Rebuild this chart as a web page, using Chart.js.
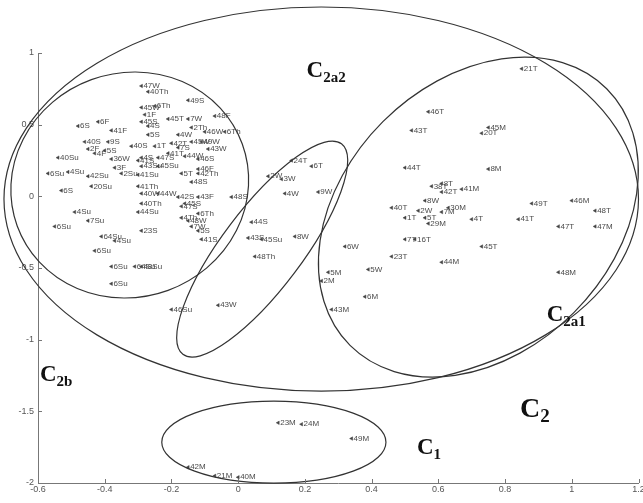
<!DOCTYPE html>
<html lang="en">
<head>
<meta charset="UTF-8">
<title>Cluster scatter</title>
<script src="https://cdn.jsdelivr.net/npm/chart.js"></script>
<style>
    body { margin: 0; background: #fff; }
    #wrap { width: 643px; height: 503px; }
</style>
</head>
<body>
<div id="wrap"><canvas id="myChart"></canvas></div>
<script>
// ---- data ----
const xTicks = [-0.6, -0.4, -0.2, 0, 0.2, 0.4, 0.6, 0.8, 1, 1.2];
const yTicks = [-2, -1.5, -1, -0.5, 0, 0.5, 1];

const c1Labels = ['23M', '24M', '49M', '42M', '21M', '40M'];
const c1X = [0.12, 0.19, 0.34, -0.15, -0.07, 0.00];
const c1Y = [-1.58, -1.59, -1.69, -1.89, -1.95, -1.96];

const c2a1Labels = ['21T', '46T', '43T', '45M', '20T', '44T', '8M', '38T', '8T', '41M', '42T', '40T',
    '8W', '30M', '2W', '1T', '5T', '7M', '29M', '4T', '7T', '16T', '45T', '23T', '44M', '49T',
    '46M', '48T', '41T', '47T', '47M', '48M', '6M', '43M', '5M', '2M', '6W', '5W'];
const c2a1X = [0.85, 0.57, 0.52, 0.75, 0.73, 0.50, 0.75, 0.58, 0.61, 0.67, 0.61, 0.46,
    0.56, 0.63, 0.54, 0.50, 0.56, 0.61, 0.57, 0.70, 0.50, 0.53, 0.73, 0.46, 0.61, 0.88,
    1.00, 1.07, 0.84, 0.96, 1.07, 0.96, 0.38, 0.28, 0.27, 0.25, 0.32, 0.39];
const c2a1Y = [0.89, 0.59, 0.46, 0.48, 0.44, 0.20, 0.19, 0.07, 0.09, 0.05, 0.03, -0.08,
    -0.03, -0.08, -0.10, -0.15, -0.15, -0.11, -0.19, -0.16, -0.30, -0.30, -0.35, -0.42, -0.46, -0.05,
    -0.03, -0.10, -0.16, -0.21, -0.21, -0.53, -0.70, -0.79, -0.53, -0.59, -0.35, -0.51];

const midLabels = ['24T', '6T', '2W', '3W', '4W', '9W', '48S', '44S', '43S', '45Su', '8W', '48Th', '43W', '46Su'];
const midX = [0.16, 0.22, 0.09, 0.13, 0.14, 0.24, -0.02, 0.04, 0.03, 0.07, 0.17, 0.05, -0.06, -0.20];
const midY = [0.25, 0.21, 0.14, 0.12, 0.02, 0.03, -0.005, -0.18, -0.29, -0.30, -0.28, -0.42, -0.76, -0.79];

const c2bLabels = ['6S', '6F', '41F', '40S', '9S', '2F', '4F', '5S', '40Su', '6Su', '4Su', '42Su', '20Su', '6S',
    '36W', '3F', '2Su', '47W', '40Th', '49S', '45W', '6Th', '1F', '45T', '7W', '48F', '45S', '4S', '2Th',
    '4W', '46W', '6Th', '5S', '40S', '1T', '42T', '7S', '45W', '49W', '43W', '4S', '47S', '41T', '44W',
    '46S', '43Su', '45Su', '41S', '46F', '42Th', '5T', '48S', '41Su', '41Th', '40W', '44W', '42S', '43F',
    '40Th', '45S', '44Su', '6Th', '47S', '4Th', '48W', '7W', '5S', '41S', '23S', '4Su', '7Su', '6Su',
    '64Su', '4Su', '6Su', '6Su', '64Su', '48Su', '6Su'];
const c2bX = [-0.48, -0.42, -0.38, -0.46, -0.39, -0.45, -0.43, -0.40, -0.54, -0.57, -0.51, -0.45, -0.44, -0.53,
    -0.38, -0.37, -0.35, -0.29, -0.27, -0.15, -0.29, -0.25, -0.28, -0.21, -0.15, -0.07, -0.29, -0.27, -0.14,
    -0.18, -0.10, -0.04, -0.27, -0.32, -0.25, -0.20, -0.18, -0.14, -0.11, -0.09, -0.29, -0.24, -0.21, -0.16,
    -0.12, -0.29, -0.24, -0.30, -0.12, -0.12, -0.17, -0.14, -0.30, -0.30, -0.29, -0.24, -0.18, -0.12,
    -0.29, -0.16, -0.30, -0.12, -0.17, -0.17, -0.15, -0.14, -0.12, -0.11, -0.29, -0.49, -0.45, -0.55,
    -0.41, -0.37, -0.43, -0.38, -0.31, -0.29, -0.38];
const c2bY = [0.49, 0.52, 0.46, 0.38, 0.38, 0.33, 0.30, 0.32, 0.27, 0.16, 0.17, 0.14, 0.07, 0.04,
    0.26, 0.20, 0.16, 0.77, 0.73, 0.67, 0.62, 0.63, 0.57, 0.54, 0.54, 0.56, 0.52, 0.49, 0.48,
    0.43, 0.45, 0.45, 0.43, 0.35, 0.35, 0.37, 0.34, 0.38, 0.38, 0.33, 0.27, 0.27, 0.30, 0.28,
    0.26, 0.21, 0.21, 0.25, 0.19, 0.16, 0.16, 0.10, 0.15, 0.07, 0.02, 0.02, -0.005, -0.005,
    -0.05, -0.05, -0.11, -0.12, -0.07, -0.15, -0.17, -0.21, -0.24, -0.30, -0.24, -0.11, -0.17, -0.21,
    -0.28, -0.31, -0.38, -0.49, -0.49, -0.49, -0.61];

// cluster outlines: centre (data), semi-axes (x units, y units), screen rotation in degrees
const ellipseNames = ['C2', 'C2a2', 'mid', 'C2a1', 'C1'];
const ellipseCX = [0.249, -0.325, 0.072, 0.72, 0.107];
const ellipseCY = [-0.019, 0.079, -0.368, -0.145, -1.715];
const ellipseRX = [0.951, 0.359, 0.395, 0.544, 0.336];
const ellipseRY = [1.34, 0.782, 0.28, 0.942, 0.286];
const ellipseRot = [0, -20, -53, -45, 0];

// cluster names
const nameMain = ['C', 'C', 'C', 'C', 'C'];
const nameSub = ['2a2', '2a1', '2b', '2', '1'];
const nameX = [0.205, 0.925, -0.594, 0.845, 0.536];
const nameY = [0.833, -0.870, -1.289, -1.540, -1.798];

// ---- build datasets ----
function toPoints(xs, ys, labels) {
    return xs.map((x, i) => ({ x: x, y: ys[i], label: labels[i] }));
}
const pointStyle = {
    pointStyle: 'triangle',
    rotation: -90,
    pointRadius: 2,
    pointBackgroundColor: '#444',
    pointBorderColor: '#444',
    pointBorderWidth: 0.5,
    showLine: false
};
const datasets = [
    Object.assign({ data: toPoints(c1X, c1Y, c1Labels) }, pointStyle),
    Object.assign({ data: toPoints(c2a1X, c2a1Y, c2a1Labels) }, pointStyle),
    Object.assign({ data: toPoints(midX, midY, midLabels) }, pointStyle),
    Object.assign({ data: toPoints(c2bX, c2bY, c2bLabels) }, pointStyle)
];

// point labels, ellipses, inward ticks, cluster names
const overlay = {
    id: 'overlay',
    afterDatasetsDraw(chart) {
        const ctx = chart.ctx;
        const xs = chart.scales.x, ys = chart.scales.y;
        const pxX = xs.getPixelForValue(1) - xs.getPixelForValue(0);
        const pxY = ys.getPixelForValue(0) - ys.getPixelForValue(1);
        ctx.save();

        // labels next to points
        ctx.font = '8px Arial';
        ctx.fillStyle = '#4a4a4a';
        ctx.textBaseline = 'middle';
        chart.data.datasets.forEach(ds => {
            ds.data.forEach(p => {
                ctx.fillText(p.label, xs.getPixelForValue(p.x) + 2, ys.getPixelForValue(p.y));
            });
        });

        // ellipses
        ctx.strokeStyle = '#333';
        ctx.lineWidth = 1.2;
        ellipseNames.forEach((n, i) => {
            ctx.beginPath();
            ctx.ellipse(xs.getPixelForValue(ellipseCX[i]), ys.getPixelForValue(ellipseCY[i]),
                ellipseRX[i] * pxX, ellipseRY[i] * pxY, ellipseRot[i] * Math.PI / 180, 0, Math.PI * 2);
            ctx.stroke();
        });

        // inward ticks
        ctx.strokeStyle = '#777';
        ctx.lineWidth = 1;
        const a = chart.chartArea;
        ctx.beginPath();
        xTicks.forEach(v => {
            const px = Math.round(xs.getPixelForValue(v)) + 0.5;
            ctx.moveTo(px, a.bottom);
            ctx.lineTo(px, a.bottom - 4);
        });
        yTicks.forEach(v => {
            const py = Math.round(ys.getPixelForValue(v)) + 0.5;
            ctx.moveTo(a.left, py);
            ctx.lineTo(a.left + 4, py);
        });
        ctx.stroke();

        // cluster names
        ctx.fillStyle = '#111';
        ctx.textBaseline = 'alphabetic';
        nameMain.forEach((m, i) => {
            const big = nameSub[i] === '2';
            const px = xs.getPixelForValue(nameX[i]);
            const py = ys.getPixelForValue(nameY[i]);
            ctx.font = 'bold ' + (big ? 28 : 23) + 'px "Liberation Serif", serif';
            ctx.fillText(m, px, py);
            const w = ctx.measureText(m).width;
            ctx.font = 'bold ' + (big ? 19 : 15) + 'px "Liberation Serif", serif';
            ctx.fillText(nameSub[i], px + w, py + 5);
        });
        ctx.restore();
    }
};

const fmt = v => String(Math.round(v * 10) / 10);

const ctx = document.getElementById('myChart').getContext('2d');
const myChart = new Chart(ctx, {
    type: 'scatter',
    data: { datasets: datasets },
    plugins: [overlay],
    options: {
        responsive: true,
        maintainAspectRatio: false,
        animation: false,
        layout: { padding: { top: 53, right: 3, left: 0, bottom: 0 } },
        plugins: { legend: { display: false }, tooltip: { enabled: false } },
        scales: {
            x: {
                type: 'linear',
                min: -0.6, max: 1.2,
                afterBuildTicks: s => { s.ticks = xTicks.map(v => ({ value: v })); },
                afterFit: s => { s.height = 20; s.paddingRight = 0; s.paddingLeft = 0; },
                ticks: { font: { size: 9, family: 'Arial' }, color: '#555', padding: 1, maxRotation: 0, autoSkip: false, callback: fmt },
                grid: { display: true, drawOnChartArea: false, drawTicks: false },
                border: { color: '#777', width: 1 }
            },
            y: {
                type: 'linear',
                min: -2, max: 1,
                afterBuildTicks: s => { s.ticks = yTicks.map(v => ({ value: v })); },
                afterFit: s => { s.width = 38; s.paddingTop = 0; s.paddingBottom = 0; },
                ticks: { font: { size: 9, family: 'Arial' }, color: '#555', padding: 4, callback: fmt },
                grid: { display: true, drawOnChartArea: false, drawTicks: false },
                border: { color: '#777', width: 1 }
            }
        }
    }
});
</script>
</body>
</html>
